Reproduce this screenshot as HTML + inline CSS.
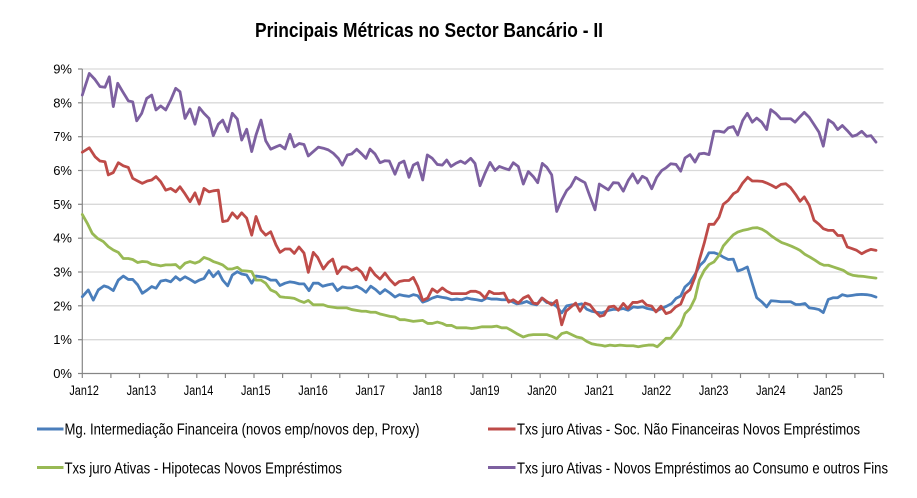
<!DOCTYPE html>
<html>
<head>
<meta charset="utf-8">
<style>
  html, body { margin: 0; padding: 0; background: #ffffff; }
  svg { display: block; }
  text { font-family: "Liberation Sans", Arial, sans-serif; fill: #000; }
</style>
</head>
<body>
<svg width="917" height="498" viewBox="0 0 917 498" xmlns="http://www.w3.org/2000/svg">
  <rect x="0" y="0" width="917" height="498" fill="#ffffff"/>

  <!-- Title -->
  <text x="255" y="37" font-size="20" font-weight="bold" textLength="348" lengthAdjust="spacingAndGlyphs">Principais Métricas no Sector Bancário - II</text>

  <!-- Gridlines -->
  <g stroke="#d9d9d9" stroke-width="1.3">
    <line x1="82" y1="69.0" x2="883.5" y2="69.0"/>
    <line x1="82" y1="102.8" x2="883.5" y2="102.8"/>
    <line x1="82" y1="136.7" x2="883.5" y2="136.7"/>
    <line x1="82" y1="170.5" x2="883.5" y2="170.5"/>
    <line x1="82" y1="204.3" x2="883.5" y2="204.3"/>
    <line x1="82" y1="238.2" x2="883.5" y2="238.2"/>
    <line x1="82" y1="272.0" x2="883.5" y2="272.0"/>
    <line x1="82" y1="305.8" x2="883.5" y2="305.8"/>
    <line x1="82" y1="339.7" x2="883.5" y2="339.7"/>
  </g>

  <!-- Axes -->
  <g stroke="#868686" stroke-width="1.2">
    <line x1="82.3" y1="69" x2="82.3" y2="373.5"/>
    <line x1="82.3" y1="373.5" x2="883.5" y2="373.5"/>
    <line x1="78" y1="69.0" x2="82.3" y2="69.0"/>
    <line x1="78" y1="102.8" x2="82.3" y2="102.8"/>
    <line x1="78" y1="136.7" x2="82.3" y2="136.7"/>
    <line x1="78" y1="170.5" x2="82.3" y2="170.5"/>
    <line x1="78" y1="204.3" x2="82.3" y2="204.3"/>
    <line x1="78" y1="238.2" x2="82.3" y2="238.2"/>
    <line x1="78" y1="272.0" x2="82.3" y2="272.0"/>
    <line x1="78" y1="305.8" x2="82.3" y2="305.8"/>
    <line x1="78" y1="339.7" x2="82.3" y2="339.7"/>
    <line x1="78" y1="373.5" x2="82.3" y2="373.5"/>
    <line x1="82.3" y1="373.5" x2="82.3" y2="378"/>
    <line x1="110.9" y1="373.5" x2="110.9" y2="378"/>
    <line x1="139.5" y1="373.5" x2="139.5" y2="378"/>
    <line x1="168.1" y1="373.5" x2="168.1" y2="378"/>
    <line x1="196.8" y1="373.5" x2="196.8" y2="378"/>
    <line x1="225.4" y1="373.5" x2="225.4" y2="378"/>
    <line x1="254.0" y1="373.5" x2="254.0" y2="378"/>
    <line x1="282.6" y1="373.5" x2="282.6" y2="378"/>
    <line x1="311.2" y1="373.5" x2="311.2" y2="378"/>
    <line x1="339.8" y1="373.5" x2="339.8" y2="378"/>
    <line x1="368.5" y1="373.5" x2="368.5" y2="378"/>
    <line x1="397.1" y1="373.5" x2="397.1" y2="378"/>
    <line x1="425.7" y1="373.5" x2="425.7" y2="378"/>
    <line x1="454.3" y1="373.5" x2="454.3" y2="378"/>
    <line x1="482.9" y1="373.5" x2="482.9" y2="378"/>
    <line x1="511.5" y1="373.5" x2="511.5" y2="378"/>
    <line x1="540.2" y1="373.5" x2="540.2" y2="378"/>
    <line x1="568.8" y1="373.5" x2="568.8" y2="378"/>
    <line x1="597.4" y1="373.5" x2="597.4" y2="378"/>
    <line x1="626.0" y1="373.5" x2="626.0" y2="378"/>
    <line x1="654.6" y1="373.5" x2="654.6" y2="378"/>
    <line x1="683.2" y1="373.5" x2="683.2" y2="378"/>
    <line x1="711.8" y1="373.5" x2="711.8" y2="378"/>
    <line x1="740.5" y1="373.5" x2="740.5" y2="378"/>
    <line x1="769.1" y1="373.5" x2="769.1" y2="378"/>
    <line x1="797.7" y1="373.5" x2="797.7" y2="378"/>
    <line x1="826.3" y1="373.5" x2="826.3" y2="378"/>
    <line x1="854.9" y1="373.5" x2="854.9" y2="378"/>
    <line x1="883.5" y1="373.5" x2="883.5" y2="378"/>
  </g>

  <!-- Y labels -->
  <g font-size="13" text-anchor="end">
    <text x="72" y="73.5">9%</text>
    <text x="72" y="107.3">8%</text>
    <text x="72" y="141.2">7%</text>
    <text x="72" y="175.0">6%</text>
    <text x="72" y="208.8">5%</text>
    <text x="72" y="242.7">4%</text>
    <text x="72" y="276.5">3%</text>
    <text x="72" y="310.3">2%</text>
    <text x="72" y="344.2">1%</text>
    <text x="72" y="378.0">0%</text>
  </g>

  <!-- X labels -->
  <g font-size="13.5">
    <text x="69.4" y="395" textLength="29.5" lengthAdjust="spacingAndGlyphs">Jan12</text>
    <text x="126.6" y="395" textLength="29.5" lengthAdjust="spacingAndGlyphs">Jan13</text>
    <text x="183.8" y="395" textLength="29.5" lengthAdjust="spacingAndGlyphs">Jan14</text>
    <text x="241.0" y="395" textLength="29.5" lengthAdjust="spacingAndGlyphs">Jan15</text>
    <text x="298.3" y="395" textLength="29.5" lengthAdjust="spacingAndGlyphs">Jan16</text>
    <text x="355.5" y="395" textLength="29.5" lengthAdjust="spacingAndGlyphs">Jan17</text>
    <text x="412.7" y="395" textLength="29.5" lengthAdjust="spacingAndGlyphs">Jan18</text>
    <text x="470.0" y="395" textLength="29.5" lengthAdjust="spacingAndGlyphs">Jan19</text>
    <text x="527.2" y="395" textLength="29.5" lengthAdjust="spacingAndGlyphs">Jan20</text>
    <text x="584.4" y="395" textLength="29.5" lengthAdjust="spacingAndGlyphs">Jan21</text>
    <text x="641.7" y="395" textLength="29.5" lengthAdjust="spacingAndGlyphs">Jan22</text>
    <text x="698.9" y="395" textLength="29.5" lengthAdjust="spacingAndGlyphs">Jan23</text>
    <text x="756.1" y="395" textLength="29.5" lengthAdjust="spacingAndGlyphs">Jan24</text>
    <text x="813.3" y="395" textLength="29.5" lengthAdjust="spacingAndGlyphs">Jan25</text>
  </g>

  <!-- Series: coordinates are (x pixel, value %) -->
  <g transform="matrix(1 0 0 -33.83 0 373.5)" fill="none" stroke-linejoin="round" stroke-linecap="round">
    <polyline vector-effect="non-scaling-stroke" stroke="#4A7EBB" stroke-width="2.8" points="82.3,2.27 88.3,2.47 93.3,2.17 98.3,2.47 104,2.59 108.3,2.55 113.3,2.45 118.3,2.76 123.3,2.88 128.3,2.78 132.7,2.78 137.7,2.62 142.3,2.37 147.3,2.47 151.7,2.57 156,2.52 160.7,2.73 165.7,2.76 170.7,2.71 175.7,2.86 180,2.76 185,2.86 190,2.78 195,2.69 199.3,2.76 204,2.81 209,3.04 213.3,2.86 218.3,3.01 222.7,2.76 227.7,2.59 232.3,2.91 237.3,3.01 241.7,2.94 246.7,2.91 251.7,2.67 256,2.88 261,2.86 265.7,2.84 270.7,2.76 276,2.76 280,2.60 285,2.67 290,2.71 294.3,2.69 299.3,2.65 304,2.65 309,2.45 313.3,2.67 318.3,2.67 322.7,2.58 327.7,2.62 332.7,2.65 337.3,2.45 342.3,2.56 347.3,2.53 351.7,2.53 356.7,2.58 361.7,2.50 366,2.40 370.7,2.58 375.7,2.48 380,2.36 385,2.48 390,2.38 395,2.26 399.3,2.33 404.3,2.30 409,2.28 413.3,2.33 417.7,2.30 422.7,2.11 427.7,2.16 432.3,2.23 437.3,2.28 442.3,2.25 446.7,2.23 451.7,2.18 456.7,2.20 461.7,2.18 466.7,2.23 471.7,2.20 476.7,2.18 481.7,2.15 486.7,2.23 491.7,2.20 496.7,2.20 501.7,2.18 506.7,2.18 511.7,2.13 516.7,2.06 521.7,2.08 526.7,2.13 531.7,2.06 536.7,2.03 541.7,2.23 546.7,2.10 551.7,2.08 556.7,1.98 561.7,1.79 566.7,2.0 571.7,2.03 576.7,2.03 581.7,2.06 586.7,1.90 591.7,1.84 596.7,1.81 601.7,1.79 609,1.87 614,1.90 618.3,1.89 623.3,1.92 628.3,1.87 633.3,1.97 637.7,1.95 642.7,1.97 647.3,1.92 652.3,1.89 656.7,1.85 661.7,1.92 666.7,1.99 671.7,2.07 676,2.22 680.7,2.29 685,2.56 690,2.69 695,2.93 700,3.20 704.3,3.32 709,3.57 714,3.57 719,3.52 723.3,3.44 728.3,3.37 733.3,3.38 737.7,3.03 742.7,3.08 747.3,3.15 752.3,2.66 756.7,2.24 761.7,2.12 766.7,1.97 771,2.15 776,2.14 781,2.12 785.7,2.12 790.7,2.12 795.7,2.04 800,2.04 805,2.07 809.3,1.94 814.3,1.92 819,1.89 823.3,1.80 828.3,2.19 833.3,2.24 837.7,2.24 842.3,2.33 847.3,2.29 852.3,2.31 856.7,2.33 861.7,2.34 866.7,2.33 871,2.31 876,2.26"/>
    <polyline vector-effect="non-scaling-stroke" stroke="#BE4B48" stroke-width="2.8" points="82.3,6.54 89.3,6.67 95,6.41 100,6.28 105,6.26 108.3,5.87 113.3,5.94 118.3,6.23 123.3,6.14 128.3,6.09 132.7,5.77 137.7,5.69 142.3,5.62 147.3,5.69 151.7,5.72 156,5.82 160.7,5.67 165.7,5.42 170.7,5.47 175.7,5.37 180,5.52 185,5.31 190,5.08 195,5.34 199.3,5.01 204,5.47 209,5.37 213.3,5.40 218.3,5.42 222.7,4.49 227.7,4.52 232.3,4.75 237.3,4.59 241.7,4.75 246.7,4.59 251.7,4.09 256,4.64 261,4.24 265.7,4.09 270.7,4.19 276,3.80 280,3.58 285,3.68 290,3.68 294.3,3.55 299,3.74 304,3.56 308.3,2.99 313.3,3.58 317.7,3.43 323.3,3.09 328.3,3.28 332.7,3.38 337.3,2.95 342.3,3.15 346.7,3.15 351.7,3.05 356.7,3.12 361.7,2.99 366,2.77 370,3.12 375,2.92 380,2.79 385,2.97 390,2.77 395,2.62 399.3,2.72 404.3,2.75 409,2.75 413.3,2.84 417.7,2.58 422.7,2.16 427.7,2.23 432.3,2.50 437.3,2.40 442.3,2.53 446.7,2.43 451.7,2.36 456.7,2.36 461.7,2.36 466,2.36 470.7,2.43 475.7,2.43 480,2.38 485,2.23 489.3,2.43 494,2.36 499,2.36 504,2.38 508.7,2.11 513.3,2.18 518.3,2.08 523.3,2.23 528.3,2.30 533.3,2.08 537.7,2.06 542.3,2.23 546.7,2.13 551.7,2.03 556.7,2.16 561.7,1.44 566,1.84 570.7,1.96 575.7,2.08 580,1.84 585,2.08 590,2.03 595,1.84 600,1.69 604,1.72 609,1.97 614,1.99 618.3,1.87 623.3,2.07 627.7,1.92 632.7,2.10 637.3,2.10 642.3,2.15 646.7,2.02 651.7,1.99 656,1.82 661,1.99 666,1.77 670.7,1.82 675.7,1.97 680.7,2.05 685,2.36 690,2.48 695,2.85 699.3,3.35 704.3,3.86 709,4.41 714,4.41 719,4.62 723.3,5.0 728.3,5.12 733.3,5.31 737.7,5.39 742.7,5.63 747.7,5.80 752.3,5.69 757.3,5.69 762.3,5.68 766.7,5.63 771.7,5.56 776,5.49 781,5.59 785.7,5.61 790.7,5.49 795.7,5.29 800,5.09 804.3,5.22 809.3,4.97 814,4.53 819,4.41 823.3,4.28 828.3,4.23 833.3,4.23 837.7,4.08 842.3,4.08 847.3,3.74 852.3,3.69 856.7,3.64 861.7,3.54 866.7,3.62 871,3.67 876,3.64"/>
    <polyline vector-effect="non-scaling-stroke" stroke="#98B954" stroke-width="2.8" points="82.3,4.70 87.3,4.44 92.3,4.14 97.3,4.00 103.3,3.90 108.3,3.75 113.3,3.65 118.3,3.58 123.3,3.40 128.3,3.40 132.7,3.37 137.7,3.28 142.3,3.31 147.3,3.30 151.7,3.23 156,3.21 160.7,3.18 165.7,3.21 170.7,3.21 175.7,3.22 180,3.11 185,3.26 190,3.31 195,3.26 199.3,3.31 204,3.43 209,3.38 213.3,3.31 218.3,3.26 222.7,3.21 227.7,3.09 232.3,3.09 237.3,3.14 241.7,3.04 246.7,3.03 251.7,3.01 256,2.76 261,2.76 265.7,2.67 270.7,2.47 276,2.40 280,2.27 285,2.25 290,2.24 294.3,2.22 299.3,2.15 304,2.10 308.3,2.16 313.3,2.03 323.3,2.03 328.3,1.98 337.3,1.94 346.7,1.94 351.7,1.89 361.7,1.84 366,1.84 370.7,1.81 375.7,1.81 380,1.76 390,1.69 395,1.67 400,1.59 405,1.59 413.3,1.54 422.7,1.57 427.7,1.48 432.3,1.48 437.3,1.52 442.3,1.48 446.7,1.42 451.7,1.42 456.7,1.35 461.7,1.35 466.7,1.35 471.7,1.33 476.7,1.35 481.7,1.38 486.7,1.38 491.7,1.38 496.7,1.40 501.7,1.35 506.7,1.35 511.7,1.27 516.7,1.18 523.3,1.08 528.3,1.13 533.3,1.15 543.3,1.15 546.7,1.15 551.7,1.10 556.7,1.03 561.7,1.18 566.7,1.22 571.7,1.15 576.7,1.08 581.7,1.05 586.7,0.95 591.7,0.88 596.7,0.85 601.7,0.83 605,0.81 610,0.84 615,0.82 620,0.84 626.7,0.82 633.3,0.82 638.3,0.79 643.3,0.82 648.3,0.84 653.3,0.84 657.3,0.79 661.7,0.91 666,1.04 670.7,1.04 675.7,1.23 680.7,1.43 685,1.77 690,1.92 695,2.22 699.3,2.76 704.3,3.05 709,3.22 714,3.30 719,3.49 723.3,3.77 728.3,3.94 733.3,4.10 737.7,4.18 742.7,4.23 747.7,4.26 752.3,4.30 757.3,4.31 762.3,4.26 766.7,4.18 771.7,4.06 776.7,3.96 781.7,3.87 786.7,3.82 791.7,3.76 796.7,3.69 800,3.64 805,3.52 810,3.44 815,3.35 820,3.25 824,3.20 828.3,3.20 833.3,3.15 838.3,3.10 843.3,3.05 848.3,2.95 853.3,2.90 858.3,2.88 863.3,2.87 868.3,2.85 876,2.82"/>
    <polyline vector-effect="non-scaling-stroke" stroke="#7D60A0" stroke-width="2.8" points="82.3,8.23 89.3,8.87 95,8.69 100,8.48 105,8.46 109.3,8.77 113.3,7.89 117.7,8.58 122.7,8.33 128.3,8.06 132.7,8.03 136.7,7.47 141.7,7.69 146.7,8.13 151.7,8.23 156,7.79 160.7,7.91 165.7,7.79 170.7,8.08 175.7,8.43 180,8.33 185,7.54 190,7.82 195,7.37 199.3,7.86 204,7.69 209,7.54 213.3,7.03 218.3,7.37 222.7,7.49 227.7,7.15 232.3,7.69 237.3,7.52 241.7,6.90 246.7,7.22 251.7,6.56 256,7.05 261,7.49 265.7,6.88 270.7,6.63 276,6.70 280,6.75 285,6.64 290,7.07 294.3,6.70 299.3,6.80 304,6.77 308.3,6.43 313.3,6.56 318.3,6.69 323.3,6.66 328.3,6.61 333.3,6.51 338.3,6.36 342.3,6.16 347.3,6.46 351.7,6.49 356.7,6.63 361.7,6.49 366,6.36 370,6.63 375,6.49 380,6.23 385,6.29 389.3,6.28 395,5.89 399.3,6.21 404,6.28 409,5.80 413.3,6.16 417.7,6.23 422.7,5.72 427.3,6.46 432.3,6.36 437.3,6.18 442.3,6.16 446.7,6.31 451,6.12 455.7,6.21 460.7,6.28 465,6.21 470.7,6.36 475,6.21 480,5.55 485,5.92 490,6.24 495,6.0 499.3,6.12 504,6.07 509,6.02 513.3,6.23 518.3,6.12 523.3,5.60 528.3,5.97 533.3,5.82 537.7,5.64 542.3,6.21 546.7,6.10 551.7,5.87 556.7,4.79 561.7,5.13 566.7,5.41 570.7,5.53 575.7,5.80 580,5.72 585,5.64 590,5.23 595,4.84 599.3,5.60 604,5.51 608.3,5.43 613.3,5.64 618.3,5.63 623.3,5.39 628.3,5.71 632.7,5.90 637.7,5.63 642.3,5.83 646.7,5.76 651.7,5.46 656.7,5.80 661.7,6.0 666,6.08 670.7,6.20 676,6.18 680.7,5.98 685,6.37 690,6.47 695,6.25 699.3,6.49 704,6.51 709,6.47 714,7.16 719,7.16 724,7.13 728.3,7.26 733.3,7.30 737.7,7.05 742.7,7.48 747.3,7.69 752.3,7.43 756.7,7.55 761.7,7.43 766.7,7.21 770.7,7.80 775.7,7.69 780.7,7.53 785.7,7.53 790.7,7.53 795,7.43 800,7.59 804.3,7.72 809.3,7.57 814,7.36 819,7.13 823.3,6.72 828.3,7.50 833.3,7.40 837.7,7.21 842.3,7.33 847.3,7.18 852.3,7.01 856.7,7.05 861.7,7.16 866.7,7.01 871,7.03 876,6.84"/>
  </g>

  <!-- Legend -->
  <g stroke-width="3" stroke-linecap="butt">
    <line x1="37" y1="429" x2="63.5" y2="429" stroke="#4A7EBB"/>
    <line x1="488" y1="429" x2="515.5" y2="429" stroke="#BE4B48"/>
    <line x1="37" y1="467.5" x2="63.5" y2="467.5" stroke="#98B954"/>
    <line x1="488" y1="467.5" x2="515.5" y2="467.5" stroke="#7D60A0"/>
  </g>
  <g font-size="16">
    <text x="64.5" y="434.5" textLength="355" lengthAdjust="spacingAndGlyphs">Mg. Intermediação Financeira (novos emp/novos dep, Proxy)</text>
    <text x="517" y="434.5" textLength="343" lengthAdjust="spacingAndGlyphs">Txs juro Ativas - Soc. Não Financeiras Novos Empréstimos</text>
    <text x="64.5" y="473.5" textLength="277.5" lengthAdjust="spacingAndGlyphs">Txs juro Ativas - Hipotecas Novos Empréstimos</text>
    <text x="517" y="473.5" textLength="371" lengthAdjust="spacingAndGlyphs">Txs juro Ativas - Novos Empréstimos ao Consumo e outros Fins</text>
  </g>
</svg>
</body>
</html>
